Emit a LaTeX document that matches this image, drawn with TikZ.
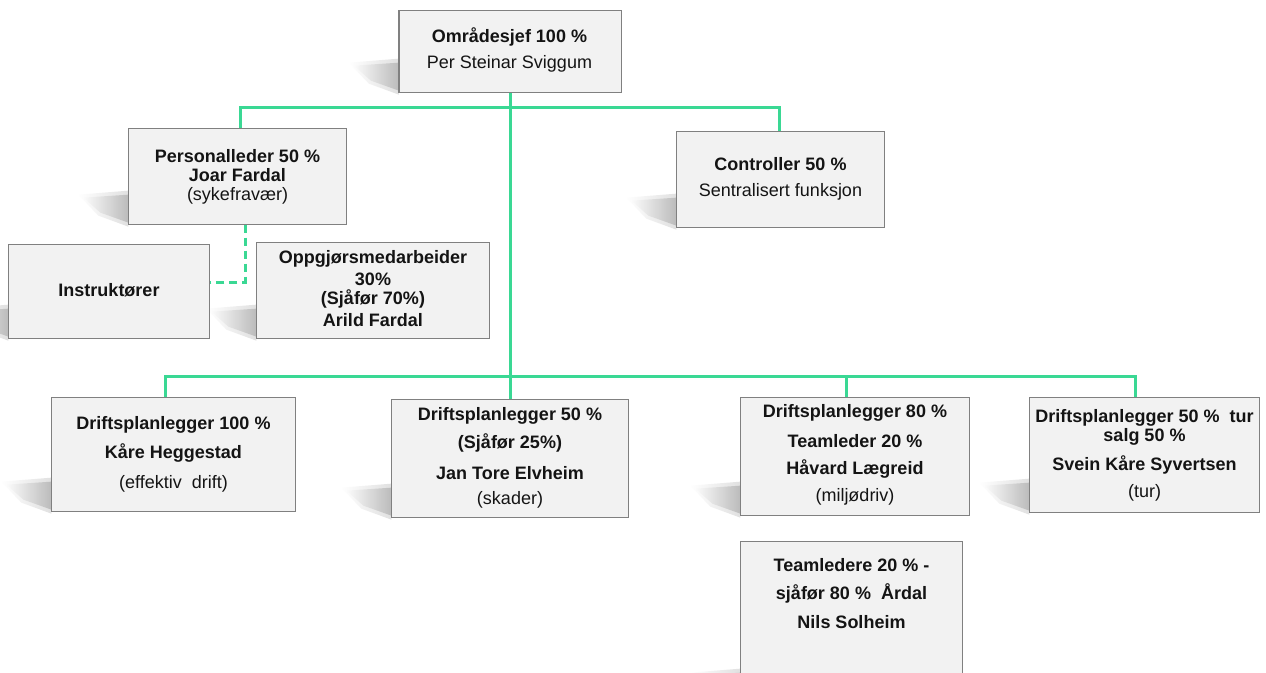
\documentclass[tikz,border=0pt]{standalone}
\usepackage{fontspec}
\setmainfont{Liberation Sans}
\usetikzlibrary{calc,fadings}
\definecolor{linkgreen}{RGB}{58,216,148}
\definecolor{boxfill}{RGB}{242,242,242}
\definecolor{boxline}{RGB}{128,128,128}
\definecolor{txt}{RGB}{20,20,20}
\tikzfading[name=shadowfade, top color=transparent!100, bottom color=transparent!0]
\tikzset{
  x=1pt, y=-1pt,
  box/.style={draw=boxline, line width=1.3pt, fill=boxfill, inner sep=0pt},
  bt/.style={font=\fontsize{18}{20}\selectfont\bfseries, text=txt, inner sep=0pt, anchor=center},
  rt/.style={font=\fontsize{18}{20}\selectfont, text=txt, inner sep=0pt, anchor=center},
  link/.style={draw=linkgreen, line width=3pt},
  dlink/.style={draw=linkgreen, line width=3pt, dash pattern=on 8pt off 5pt},
}
\newcommand{\boxshadow}[1]{%
  \shade[left color=white, right color=black!40, opacity=0.6]
    ($(#1.south west)+(-45,-27)$) -- ($(#1.south west)+(0,-30)$) --
    ($(#1.south west)+(0,-2)$) -- ($(#1.south west)+(-28,-12)$) -- cycle;
  \shade[left color=white, right color=black!30, opacity=0.4]
    ($(#1.south west)+(-50,-30)$) -- ($(#1.south west)+(0,-34)$) --
    ($(#1.south west)+(0,2)$) -- ($(#1.south west)+(-30,-9)$) -- cycle;}
\begin{document}
\begin{tikzpicture}
\useasboundingbox (0,0) rectangle (1266,672);
\fill[white] (0,0) rectangle (1266,672);

% coordinates of connector bends
\coordinate (busA) at (510,107);
\coordinate (busB) at (510,376);
\coordinate (dashbend) at (245,282);

% boxes
\node[box, minimum width=221pt, minimum height=81pt] (omr) at (510,51.5) {};
\node[box, minimum width=217pt, minimum height=95pt] (pers) at (237.5,176.5) {};
\node[box, minimum width=207pt, minimum height=95pt] (ctrl) at (780.5,179.5) {};
\node[box, minimum width=200pt, minimum height=93pt] (instr) at (109,291.5) {};
\node[box, minimum width=232pt, minimum height=95pt] (oppg) at (373,290.5) {};
\node[box, minimum width=243pt, minimum height=113pt] (dA) at (173.5,454.5) {};
\node[box, minimum width=236pt, minimum height=117pt] (dB) at (510,458.5) {};
\node[box, minimum width=228pt, minimum height=117pt] (dC) at (855,456.5) {};
\node[box, minimum width=229pt, minimum height=114pt] (dD) at (1144.5,455) {};
\node[box, minimum width=221pt, minimum height=160pt] (team) at (851.5,622) {};

% shadows drawn, then boxes redrawn on top
\foreach \n in {omr,pers,ctrl,instr,oppg,dA,dB,dC,dD,team}{\boxshadow{\n}}
\foreach \n in {omr,pers,ctrl,instr,oppg,dA,dB,dC,dD,team}{
  \draw[box] (\n.south west) rectangle (\n.north east);}

% connectors
\draw[link] (omr.south) -- (busB);
\draw[link] (pers.north -| 240,0) |- (busA) -| (ctrl.north -| 779,0);
\draw[link] (dA.north -| 165,0) |- (busB) -| (dD.north -| 1135,0);
\draw[link] (busB) -- (dB.north);
\draw[link] (busB -| 846,0) -- (dC.north -| 846,0);
\draw[dlink] (pers.south -| 245,0) -- (dashbend) -- (dashbend -| instr.east);

% texts
\node[bt] (t1) at (509.5,37) {Områdesjef 100 \%};
\node[rt] (t2) at (509.5,64) {Per Steinar Sviggum};

\node[bt] (t3) at (237.5,156) {Personalleder 50 \%};
\node[bt] (t4) at (237.5,175) {Joar Fardal};
\node[rt] (t5) at (237.5,196) {(sykefravær)};

\node[bt] (t6) at (780.5,164) {Controller 50 \%};
\node[rt] (t7) at (780.5,192) {Sentralisert funksjon};

\node[bt] (t8) at (109,290) {Instruktører};

\node[bt] (t9) at (373,259) {Oppgjørsmedarbeider};
\node[bt] (t10) at (373,279) {30\%};
\node[bt] (t11) at (373,299) {(Sjåfør 70\%)};
\node[bt] (t12) at (373,320) {Arild Fardal};

\node[bt] (t13) at (173.5,425) {Driftsplanlegger 100 \%};
\node[bt] (t14) at (173.5,453) {Kåre Heggestad};
\node[rt] (t15) at (173.5,484) {(effektiv\ \ drift)};

\node[bt] (t16) at (510,416) {Driftsplanlegger 50 \%};
\node[bt] (t17) at (510,443) {(Sjåfør 25\%)};
\node[bt] (t18) at (510,473) {Jan Tore Elvheim};
\node[rt] (t19) at (510,500) {(skader)};

\node[bt] (t20) at (855,413) {Driftsplanlegger 80 \%};
\node[bt] (t21) at (855,441) {Teamleder 20 \%};
\node[bt] (t22) at (855,469) {Håvard Lægreid};
\node[rt] (t23) at (855,497) {(miljødriv)};

\node[bt] (t24) at (1144.5,418) {Driftsplanlegger 50 \%\ \ tur};
\node[bt] (t25) at (1144.5,437) {salg 50 \%};
\node[bt] (t26) at (1144.5,465) {Svein Kåre Syvertsen};
\node[rt] (t27) at (1144.5,493) {(tur)};

\node[bt] (t28) at (851.5,565) {Teamledere 20 \% -};
\node[bt] (t29) at (851.5,593) {sjåfør 80 \%\ \ Årdal};
\node[bt] (t30) at (851.5,622) {Nils Solheim};
\end{tikzpicture}
\end{document}
